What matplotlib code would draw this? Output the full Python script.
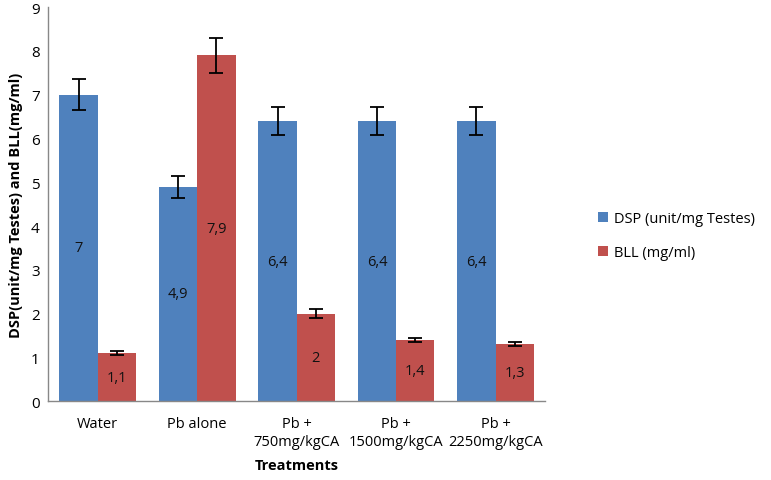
import matplotlib
matplotlib.use("Agg")
import matplotlib.pyplot as plt
import numpy as np

categories = ["Water", "Pb alone", "Pb +\n750mg/kgCA", "Pb +\n1500mg/kgCA", "Pb +\n2250mg/kgCA"]
dsp = [7.0, 4.9, 6.4, 6.4, 6.4]
dsp_err = [0.35, 0.25, 0.32, 0.32, 0.32]
bll = [1.1, 7.9, 2.0, 1.4, 1.3]
bll_err = [0.05, 0.4, 0.1, 0.05, 0.05]
yticks = list(range(0, 10))

plt.rcParams['font.family'] = ['Open Sans', 'DejaVu Sans']

fig = plt.figure(figsize=(7.71, 4.81), dpi=100)
ax = fig.add_axes([0.0623, 0.164, 0.645, 0.819])

x = np.arange(len(categories))
w = 0.385
blue = "#4F81BD"
red = "#C0504D"

def fmt(v):
    s = ("%g" % v)
    return s.replace(".", ",")

b1 = ax.bar(x - w/2, dsp, w, color=blue, label="DSP (unit/mg Testes)",
            yerr=dsp_err, error_kw=dict(ecolor="black", elinewidth=1.3, capsize=5, capthick=1.3))
b2 = ax.bar(x + w/2, bll, w, color=red, label="BLL (mg/ml)",
            yerr=bll_err, error_kw=dict(ecolor="black", elinewidth=1.3, capsize=5, capthick=1.3))

ax.bar_label(b1, labels=[fmt(v) for v in dsp], label_type='center', fontsize=10.5, color="#111111")
ax.bar_label(b2, labels=[fmt(v) for v in bll], label_type='center', fontsize=10.5, color="#111111")

ax.set_xlim(-0.5, len(categories) - 0.5)
ax.set_ylim(0, 9)
ax.set_yticks(yticks)
ax.set_xticks(x)
ax.set_xticklabels(categories, fontsize=10.5, linespacing=1.2)
ax.tick_params(axis='y', labelsize=11, length=0, pad=6)
ax.tick_params(axis='x', length=0, pad=11)

for s in ["top", "right"]:
    ax.spines[s].set_visible(False)
for s in ["left", "bottom"]:
    ax.spines[s].set_color("#888888")
    ax.spines[s].set_linewidth(1.0)

ax.set_xlabel("Treatments", fontsize=10.5, fontweight="bold", labelpad=7)
ax.set_ylabel("DSP(unit/mg Testes) and BLL(mg/ml)", fontsize=10.5, fontweight="bold", labelpad=6)

leg = ax.legend(loc="center left", bbox_to_anchor=(1.08, 0.42), frameon=False,
                fontsize=10.5, handlelength=0.7, handleheight=0.7, labelspacing=1.3, handletextpad=0.4)

fig.savefig("out.png", dpi=100)
